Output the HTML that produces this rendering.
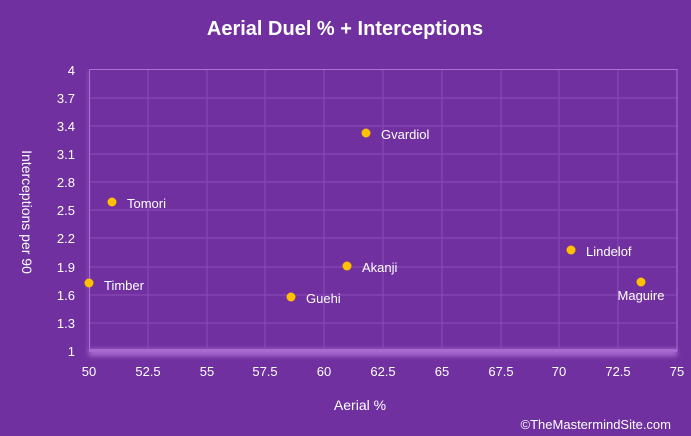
<!DOCTYPE html>
<html><head><style>
html,body{margin:0;padding:0;width:691px;height:436px;background:#7030a0;overflow:hidden}
svg{display:block}
</style></head><body>
<svg width="691" height="436" xmlns="http://www.w3.org/2000/svg" font-family="Liberation Sans, sans-serif">
<rect width="691" height="436" fill="#7030a0"/>
<defs><filter id="b" x="-10%" y="-50%" width="120%" height="300%"><feGaussianBlur stdDeviation="2.5"/></filter></defs>
<rect x="89" y="349" width="588" height="7" fill="#a86ad0" filter="url(#b)"/>
<rect x="86" y="70" width="4" height="284" fill="#8a50b8" filter="url(#b)" opacity="0.6"/>
<g stroke="#8b4cb8" stroke-width="1">
<line x1="148" y1="70" x2="148" y2="351"/><line x1="207" y1="70" x2="207" y2="351"/>
<line x1="265" y1="70" x2="265" y2="351"/><line x1="324" y1="70" x2="324" y2="351"/>
<line x1="383" y1="70" x2="383" y2="351"/><line x1="442" y1="70" x2="442" y2="351"/>
<line x1="501" y1="70" x2="501" y2="351"/><line x1="559" y1="70" x2="559" y2="351"/>
<line x1="618" y1="70" x2="618" y2="351"/>
<line x1="89" y1="98" x2="677" y2="98"/><line x1="89" y1="126" x2="677" y2="126"/>
<line x1="89" y1="154" x2="677" y2="154"/><line x1="89" y1="182" x2="677" y2="182"/>
<line x1="89" y1="210" x2="677" y2="210"/><line x1="89" y1="238" x2="677" y2="238"/>
<line x1="89" y1="267" x2="677" y2="267"/><line x1="89" y1="295" x2="677" y2="295"/>
<line x1="89" y1="323" x2="677" y2="323"/>
</g>
<rect x="89.5" y="69.5" width="587.5" height="281.5" fill="none" stroke="#a772d0" stroke-width="1"/>
<rect x="89" y="349" width="588" height="3" fill="#a86ad0"/>
<text x="345" y="35" fill="#fff" font-size="20" font-weight="bold" text-anchor="middle">Aerial Duel % + Interceptions</text>
<g fill="#fff" font-size="13" text-anchor="end">
<text x="75" y="75">4</text><text x="75" y="103">3.7</text><text x="75" y="131">3.4</text>
<text x="75" y="159">3.1</text><text x="75" y="187">2.8</text><text x="75" y="215">2.5</text>
<text x="75" y="243">2.2</text><text x="75" y="272">1.9</text><text x="75" y="300">1.6</text>
<text x="75" y="328">1.3</text><text x="75" y="356">1</text>
</g>
<g fill="#fff" font-size="13" text-anchor="middle">
<text x="89" y="376">50</text><text x="148" y="376">52.5</text><text x="207" y="376">55</text>
<text x="265" y="376">57.5</text><text x="324" y="376">60</text><text x="383" y="376">62.5</text>
<text x="442" y="376">65</text><text x="501" y="376">67.5</text><text x="559" y="376">70</text>
<text x="618" y="376">72.5</text><text x="677" y="376">75</text>
</g>
<text x="360" y="410" fill="#fff" font-size="14" text-anchor="middle">Aerial %</text>
<text transform="translate(22,212) rotate(90)" fill="#fff" font-size="14" text-anchor="middle">Interceptions per 90</text>
<text x="671" y="429" fill="#fff" font-size="13" text-anchor="end">©TheMastermindSite.com</text>
<g fill="#ffc000">
<circle cx="366" cy="133" r="4.5"/><circle cx="112" cy="202" r="4.5"/><circle cx="89" cy="283" r="4.5"/>
<circle cx="347" cy="266" r="4.5"/><circle cx="291" cy="297" r="4.5"/><circle cx="571" cy="250" r="4.5"/>
<circle cx="641" cy="282" r="4.5"/>
</g>
<g fill="#fff" font-size="13">
<text x="381" y="139">Gvardiol</text><text x="127" y="208">Tomori</text><text x="104" y="290">Timber</text>
<text x="362" y="272">Akanji</text><text x="306" y="303">Guehi</text><text x="586" y="256">Lindelof</text>
<text x="641" y="300" text-anchor="middle">Maguire</text>
</g>
</svg>
</body></html>
